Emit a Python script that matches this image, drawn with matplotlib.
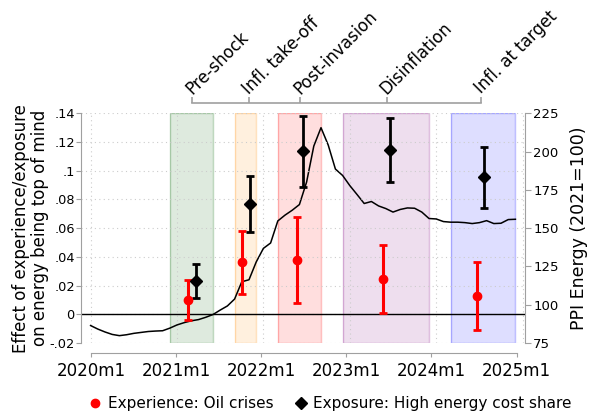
import numpy as np
import matplotlib
matplotlib.use("Agg")
import matplotlib.pyplot as plt
from matplotlib.lines import Line2D

# PPI energy, monthly 2020m1 .. 2024m12 (2021 = 100)
ppi_energy = [86.4, 84.1, 82.2, 80.6, 79.8, 80.4, 81.3, 81.9, 82.5, 82.8, 83.0, 84.7,
              86.8, 88.3, 89.5, 90.3, 91.8, 93.6, 96.5, 99.2, 103.7, 115.0, 116.3, 127.9,
              136.8, 140.3, 154.7, 158.5, 161.7, 165.4, 180.1, 203.6, 215.6, 204.3, 188.6, 184.4,
              177.8, 172.0, 166.1, 167.4, 164.5, 162.8, 160.5, 162.2, 163.2, 163.0, 160.5, 156.3,
              156.0, 154.3, 153.9, 153.9, 153.6, 153.0, 153.6, 154.9, 153.0, 153.2, 155.6, 155.8]
ppi_month = np.arange(len(ppi_energy))  # months since 2020m1

# phases (months since 2020m1, start / end of shaded window)
phases = ["Pre-shock", "Infl. take-off", "Post-invasion", "Disinflation", "Infl. at target"]
phase_start = [11, 20, 26, 35, 50]
phase_end = [17, 23, 32, 47, 59]
phase_colors = ["#006400", "#ff8c00", "#ff0000", "#800080", "#0000ff"]
phase_tick = [14.24, 22.32, 29.47, 41.7, 54.95]

# regression coefficients with confidence bands
exp_x = [13.72, 21.33, 28.98, 41.17, 54.38]
exp_coef = [0.0098, 0.0362, 0.0376, 0.0246, 0.0128]
exp_lo = [-0.0042, 0.0144, 0.0079, 0.0007, -0.0107]
exp_hi = [0.0237, 0.0580, 0.0676, 0.0483, 0.0362]

sh_x = [14.8, 22.42, 29.94, 42.2, 55.45]
sh_coef = [0.0230, 0.0767, 0.1134, 0.1143, 0.0953]
sh_lo = [0.0111, 0.0571, 0.0890, 0.0922, 0.0739]
sh_hi = [0.0348, 0.0962, 0.1380, 0.1368, 0.1166]

year_ticks = [0, 12, 24, 36, 48, 60]
year_labels = ["2020m1", "2021m1", "2022m1", "2023m1", "2024m1", "2025m1"]
left_ticks = [-0.02, 0, 0.02, 0.04, 0.06, 0.08, 0.1, 0.12, 0.14]
left_labels = ["-.02", "0", ".02", ".04", ".06", ".08", ".1", ".12", ".14"]
right_ticks = [75, 100, 125, 150, 175, 200, 225]

gray = "#a0a0a0"
grid_kw = dict(color="#cccccc", linestyle=(0, (1, 3)), linewidth=0.8)

fig = plt.figure(figsize=(5.9, 4.19), dpi=100)
pos = [81 / 590, 1 - 343 / 419, 444 / 590, 229.7 / 419]

# line axes (underneath): shading, PPI line, right axis
axl = fig.add_axes(pos)
axl.set_xlim((81 - 90.6) / 7.2, (525 - 90.6) / 7.2)
axl.set_ylim(75, 225)
for s0, s1, c in zip(phase_start, phase_end, phase_colors):
    axl.axvspan(s0, s1, facecolor=c, alpha=0.13, edgecolor="none", zorder=0)
    axl.axvspan(s0, s1, facecolor="none", edgecolor=matplotlib.colors.to_rgba(c, 0.25),
                linewidth=1.0, zorder=0)
axl.plot(ppi_month, ppi_energy, color="black", linewidth=1.1, zorder=3)
axl.set_xticks(year_ticks)
axl.tick_params(axis="x", length=0, labelbottom=False)
axl.grid(axis="x", **grid_kw)
for s in ["left", "top", "bottom"]:
    axl.spines[s].set_visible(False)
axl.spines["right"].set_color(gray)
axl.spines["right"].set_bounds(75, 225)
axl.yaxis.tick_right()
axl.set_yticks(right_ticks)
axl.tick_params(axis="y", colors=gray, labelcolor="black", labelsize=9.5, length=4, pad=2)
axl.yaxis.set_label_position("right")
axl.set_ylabel("PPI Energy (2021=100)", fontsize=12.5, rotation=90)
axl.yaxis.label.set_va("center")
axl.yaxis.label.set_ha("center")
axl.yaxis.set_label_coords(1.1205, 0.5)

# coefficient axes (on top)
ax = fig.add_axes(pos)
ax.patch.set_visible(False)
ax.set_xlim((81 - 91) / 7.092, (525 - 91) / 7.092)
ax.set_ylim(-0.02, 0.14)
ax.axhline(0, color="black", linewidth=1.0, zorder=2)
ax.errorbar(exp_x, exp_coef,
            yerr=[np.subtract(exp_coef, exp_lo), np.subtract(exp_hi, exp_coef)],
            fmt="o", color="red", ms=6, elinewidth=2.2, capsize=2.6, capthick=2, zorder=4)
ax.errorbar(sh_x, sh_coef,
            yerr=[np.subtract(sh_coef, sh_lo), np.subtract(sh_hi, sh_coef)],
            fmt="D", color="black", ms=6.5, elinewidth=2.0, capsize=2.6, capthick=2, zorder=4)
ax.set_yticks(left_ticks)
ax.set_yticklabels(left_labels)
ax.grid(axis="y", **grid_kw)
ax.set_xticks(year_ticks)
ax.set_xticklabels(year_labels)
ax.spines["top"].set_visible(False)
ax.spines["right"].set_visible(False)
ax.spines["left"].set_color(gray)
ax.spines["left"].set_bounds(-0.02, 0.14)
ax.spines["bottom"].set_color(gray)
ax.spines["bottom"].set_position(("outward", 7.5))
ax.spines["bottom"].set_bounds(0, 60)
ax.tick_params(axis="y", colors=gray, labelcolor="black", labelsize=9.3, length=3.5, pad=1)
ax.tick_params(axis="x", colors=gray, labelcolor="black", labelsize=12, length=3, pad=3)
ax.set_ylabel("Effect of experience/exposure\non energy being top of mind",
              fontsize=12, linespacing=1.05)
ax.yaxis.label.set_va("center")
ax.yaxis.set_label_coords(-0.113, 0.5)

# phase labels along the top
axt = ax.twiny()
axt.set_xlim(ax.get_xlim())
axt.set_xticks(phase_tick)
axt.set_xticklabels(phases)
for s in ["left", "right", "bottom"]:
    axt.spines[s].set_visible(False)
axt.spines["top"].set_color(gray)
axt.spines["top"].set_linewidth(1.2)
axt.spines["top"].set_position(("outward", 7.7))
axt.spines["top"].set_bounds(phase_tick[0], phase_tick[-1])
axt.tick_params(axis="x", colors=gray, labelcolor="black", labelsize=12, length=4.3,
                width=1.2, pad=1.5)
for lab in axt.get_xticklabels():
    lab.set_rotation(45)
    lab.set_rotation_mode("anchor")
    lab.set_ha("left")
    lab.set_va("baseline")

handles = [Line2D([], [], marker="o", color="red", linestyle="none", ms=6),
           Line2D([], [], marker="D", color="black", linestyle="none", ms=6)]
fig.legend(handles, ["Experience: Oil crises", "Exposure: High energy cost share"],
           loc="center", bbox_to_anchor=(0.56, 0.036), ncol=2, frameon=False,
           fontsize=11, handlelength=0.8, handletextpad=0.4, columnspacing=1.4)

fig.savefig("out.png", dpi=100)
